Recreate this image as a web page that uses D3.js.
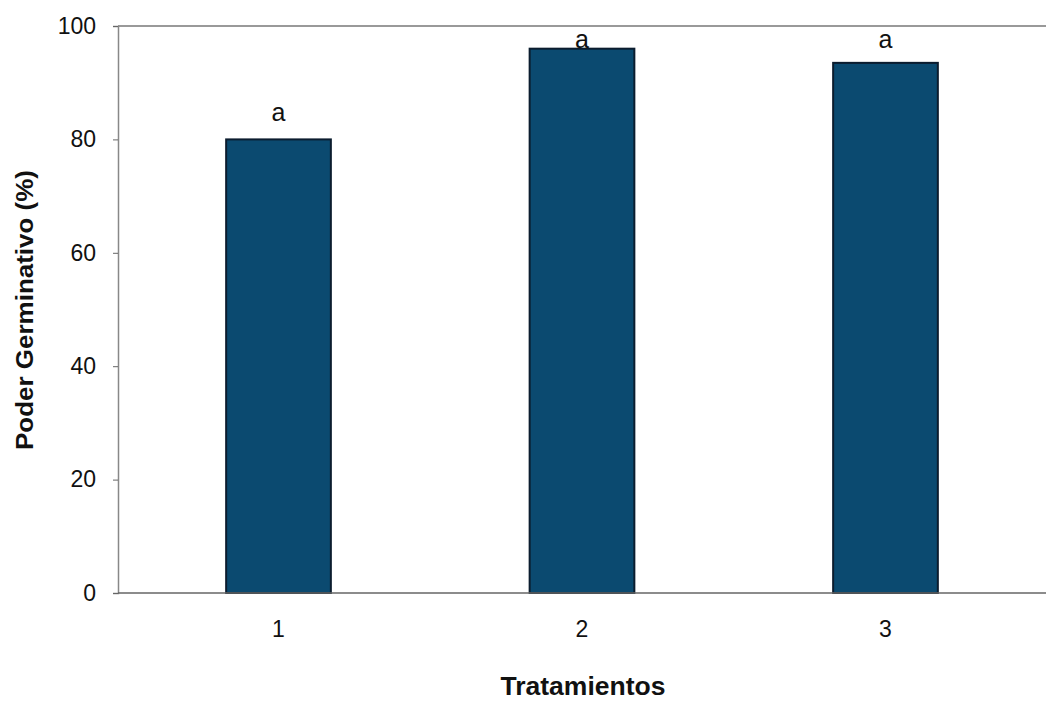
<!DOCTYPE html>
<html><head><meta charset="utf-8">
<script src="https://cdn.jsdelivr.net/npm/d3@7"></script>
<style>body{margin:0;background:#fff}svg{display:block}</style>
</head><body><svg id="c" width="1046" height="701"></svg>
<script>
const categories = ["1","2","3"];
const values = [80, 96, 93.5];
const letters = ["a","a","a"];
const yTicks = [0,20,40,60,80,100];

(function(){
const svg = d3.select("#c");
const mLeft = 118, mRight = 1046, mTop = 26, mBottom = 593;
const x = d3.scaleBand().domain(categories).range([126, 1038]).paddingInner(0.655).paddingOuter(0.33);
const y = d3.scaleLinear().domain([0,100]).range([mBottom, mTop]);
const FF = "Arial, 'Liberation Sans', sans-serif";

svg.append("line").attr("x1",mLeft).attr("x2",mRight).attr("y1",mTop).attr("y2",mTop)
  .attr("stroke","#777").attr("stroke-width",1.3);

svg.selectAll("rect.bar").data(values).join("rect").attr("class","bar")
  .attr("x",(d,i)=>x(categories[i])).attr("width",x.bandwidth())
  .attr("y",d=>y(d)).attr("height",d=>y(0)-y(d))
  .attr("fill","#0b4a70").attr("stroke","#0b1c2e").attr("stroke-width",2);

const ya = svg.append("g").attr("transform",`translate(${mLeft},0)`)
  .call(d3.axisLeft(y).tickValues(yTicks).tickSize(5).tickPadding(17));
ya.select(".domain").attr("stroke","#888").attr("stroke-width",1.5);
ya.selectAll(".tick line").attr("stroke","#666");
ya.selectAll("text").attr("font-family",FF).attr("font-size",23).attr("fill","#111");

const xa = svg.append("g").attr("transform",`translate(0,${mBottom})`)
  .call(d3.axisBottom(x).tickSize(0).tickPadding(28));
xa.select(".domain").attr("d",`M${mLeft},0H${mRight}`).attr("stroke","#666").attr("stroke-width",1.5);
xa.selectAll("text").attr("font-family",FF).attr("font-size",23).attr("fill","#111");

svg.selectAll("text.lbl").data(values).join("text").attr("class","lbl")
  .attr("x",(d,i)=>x(categories[i])+x.bandwidth()/2)
  .attr("y",d=>Math.max(y(d)-18, mTop+22))
  .attr("text-anchor","middle")
  .attr("font-family",FF).attr("font-size",25).attr("fill","#111")
  .text((d,i)=>letters[i]);

svg.append("text").attr("x",583).attr("y",695).attr("text-anchor","middle")
  .attr("font-family",FF).attr("font-weight","bold").attr("font-size",25).attr("fill","#111")
  .attr("textLength",165).attr("lengthAdjust","spacingAndGlyphs")
  .text("Tratamientos");
svg.append("text").attr("transform","translate(33,310) rotate(-90)").attr("text-anchor","middle")
  .attr("font-family",FF).attr("font-weight","bold").attr("font-size",24).attr("fill","#111")
  .attr("textLength",280).attr("lengthAdjust","spacingAndGlyphs")
  .text("Poder Germinativo (%)");
})();
</script></body></html>
